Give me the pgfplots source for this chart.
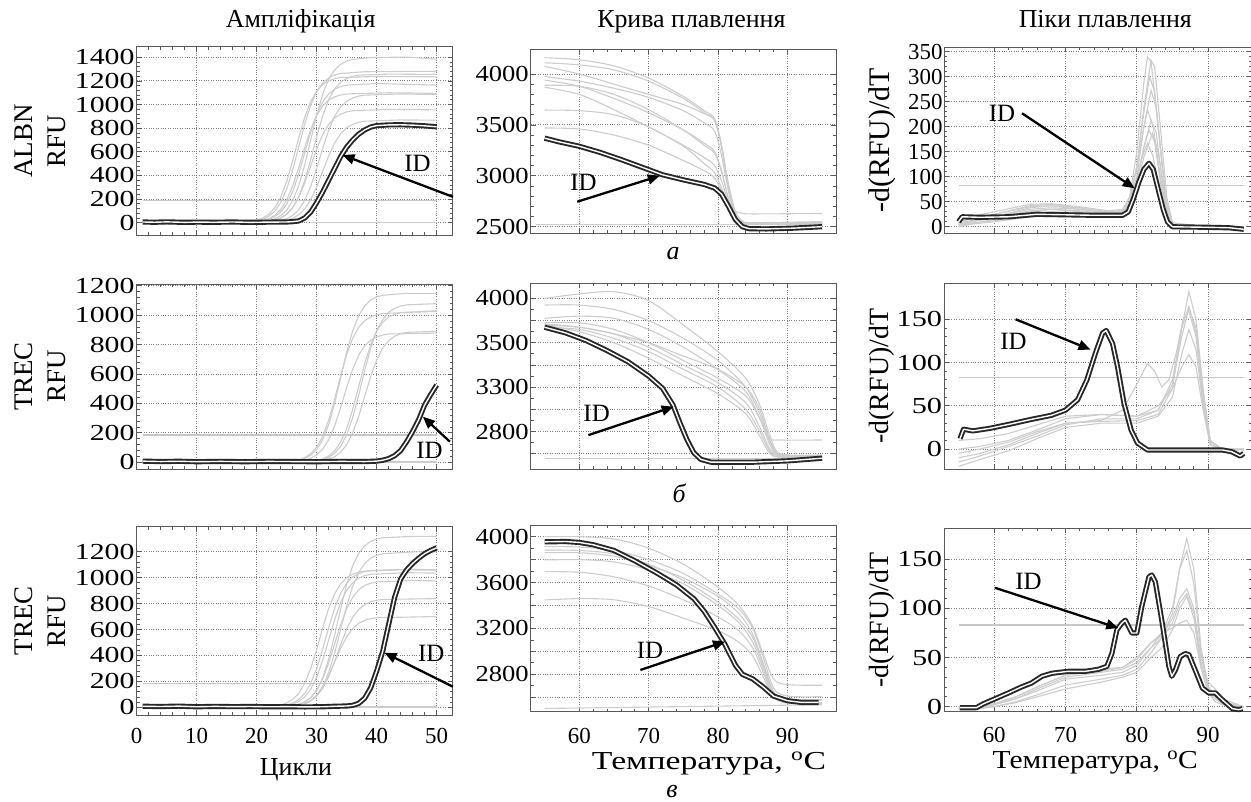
\documentclass[border=0pt]{standalone}
\usepackage{fontspec}
\setmainfont{Liberation Serif}
\usepackage{pgfplots}
\pgfplotsset{compat=1.18}
\usetikzlibrary{arrows.meta}
\tikzset{
  arr/.style={draw=black, line width=2.3bp, -{Triangle[length=12bp,width=10bp]}},
  idt/.style={font=\fontsize{25}{25}\selectfont},
  sub/.style={font=\fontsize{26}{26}\selectfont\itshape, anchor=base},
}
\pgfplotsset{
  panel/.style={
    scale only axis, clip=false, anchor=south west,
    axis line style={draw=black!65, line width=0.9bp},
    tick align=inside,
    major tick length=5bp, minor tick length=3bp,
    tick style={draw=black!65, line width=0.8bp},
    grid=major,
    major grid style={draw=black!50, dotted, line width=0.9bp},
    /pgf/number format/1000 sep={},
    /pgf/number format/assume math mode=true,
    tick label style={font=\fontsize{23}{23}\selectfont},
    yticklabel style={inner sep=1.5bp},
    xticklabel style={inner sep=1.5bp},
    title style={font=\fontsize{26}{26}\selectfont, anchor=base},
    every axis plot/.append style={no marks},
  },
  nox/.style={xticklabels={,,,,,,,}},
  amp/.style={panel, width=316bp, xmin=0, xmax=52.67, xtick={0,10,...,50},
    minor x tick num=4, minor y tick num=4,
    yticklabel style={xscale=1.3},
    xticklabel style={yshift=-11.5bp},
    ylabel style={font=\fontsize{27}{33}\selectfont, align=center,
      at={(axis description cs:-0.306,0.5)}, anchor=center}},
  melt/.style={panel, width=305.3bp, xmin=53, xmax=97, xtick={60,70,80,90},
    minor x tick num=4, yticklabel style={xscale=1.16},
    xticklabel style={yshift=-14.5bp}},
  peak/.style={panel, width=308bp, xmin=53, xmax=96.2, xtick={60,70,80,90},
    minor x tick num=4, minor y tick num=4,
    xticklabel style={yshift=-13.5bp},
    ylabel style={font=\fontsize{28}{28}\selectfont,
      at={(axis description cs:-0.2023,0.5)}, anchor=center}},
  greyc/.style={draw=black!20, line width=1.1bp},
  idc/.style={draw=black!85, double=white, double distance=1.4bp, line width=1.9bp, line join=round},
  thr/.style={draw=black!22, line width=1.4bp},
}
\begin{document}
\begin{tikzpicture}
\useasboundingbox (0,0) rectangle (1251bp,802bp);

% ===================== Row 1 =====================
\begin{axis}[amp, nox, at={(136.7bp,567bp)}, height=188.3bp, ymin=-104, ymax=1490,
  ytick={0,200,...,1400},
  ylabel={ALBN\\RFU}, title={Ампліфікація}, title style={yshift=13.7bp, xshift=6bp}]
\addplot[greyc] coordinates {(1,4)(12,6)(22,10)(23,32)(24,59)(25,106)(26,186)(27,312)(28,489)(29,700)(30,911)(31,1088)(32,1214)(33,1294)(34,1341)(35,1368)(36,1382)(39,1398)(45,1402)(50,1385)};
\addplot[greyc] coordinates {(1,8)(12,6)(20,12)(21,29)(22,54)(23,97)(24,170)(25,285)(26,447)(27,640)(28,833)(29,995)(30,1110)(31,1183)(32,1226)(33,1251)(34,1263)(38,1278)(50,1282)};
\addplot[greyc] coordinates {(1,2)(15,4)(22,10)(23,21)(24,39)(25,71)(26,127)(27,218)(28,355)(29,532)(30,728)(31,905)(32,1042)(33,1133)(34,1189)(35,1221)(36,1239)(37,1249)(42,1258)(50,1255)};
\addplot[greyc] coordinates {(1,5)(12,3)(19,10)(20,21)(21,39)(22,70)(23,125)(24,215)(25,349)(26,524)(27,716)(28,891)(29,1025)(30,1115)(31,1170)(32,1201)(33,1219)(34,1229)(40,1238)(50,1235)};
\addplot[greyc] coordinates {(1,3)(14,5)(21,12)(22,27)(23,50)(24,90)(25,157)(26,263)(27,412)(28,590)(29,768)(30,917)(31,1023)(32,1090)(33,1130)(34,1153)(35,1165)(40,1178)(50,1165)};
\addplot[greyc] coordinates {(1,6)(12,4)(20,9)(21,19)(22,34)(23,62)(24,111)(25,191)(26,310)(27,465)(28,635)(29,790)(30,909)(31,989)(32,1038)(33,1066)(34,1081)(35,1090)(42,1100)(50,1095)};
\addplot[greyc] coordinates {(1,2)(15,5)(23,9)(24,18)(25,34)(26,62)(27,110)(28,189)(29,307)(30,461)(31,629)(32,783)(33,901)(34,980)(35,1028)(36,1056)(37,1072)(38,1080)(44,1090)(50,1085)};
\addplot[greyc] coordinates {(1,4)(14,6)(22,10)(23,22)(24,40)(25,73)(26,128)(27,214)(28,335)(29,480)(30,625)(31,746)(32,832)(33,887)(34,920)(35,938)(36,948)(42,960)(50,955)};
\addplot[greyc] coordinates {(1,5)(15,3)(24,9)(25,20)(26,37)(27,66)(28,116)(29,194)(30,304)(31,435)(32,566)(33,676)(34,754)(35,804)(36,833)(37,850)(38,859)(44,870)(50,868)};
\addplot[greyc] coordinates {(29,2)(50,2)};
\addplot[thr] coordinates {(1,186)(50,186)};
\addplot[idc] coordinates {(1,6)(3,4)(5,7)(8,3)(10,5)(13,4)(16,6)(19,3)(22,5)(25,6)(26,9)(27,15)(28,40)(29,90)(30,170)(31,260)(32,360)(33,460)(34,560)(35,640)(36,700)(37,750)(38,785)(39,810)(40,822)(42,828)(44,829)(46,826)(48,820)(50,812)};
\draw[arr] (axis cs:52.7,219) -- (axis cs:34.3,573);
\node[idt] at (axis cs:46.8,506) {ID};
\end{axis}

\begin{axis}[melt, nox, at={(530.7bp,568.7bp)}, height=184bp, ymin=2435, ymax=4243,
  ytick={2500,3000,3500,4000}, minor y tick num=4,
  title={Крива плавлення}, title style={yshift=16.3bp, xshift=8bp}]
\addplot[greyc, smooth] coordinates {(55,4160)(60,4140)(65,4080)(70,3960)(75,3780)(78,3640)(79.5,3560)(80.5,3300)(81.5,2900)(82.5,2620)(83.5,2545)(85,2530)(95,2540)};
\addplot[greyc, smooth] coordinates {(55,4110)(60,4090)(65,4040)(70,3930)(75,3760)(78,3620)(79.5,3540)(80.5,3280)(81.5,2880)(82.5,2610)(83.5,2545)(85,2530)(95,2545)};
\addplot[greyc, smooth] coordinates {(55,4075)(60,4000)(65,3900)(70,3800)(75,3700)(78,3610)(79.5,3550)(80.5,3300)(81.5,2920)(82.5,2650)(83.5,2560)(85,2540)(95,2550)};
\addplot[greyc, smooth] coordinates {(55,3975)(60,3930)(65,3860)(70,3770)(75,3640)(78,3520)(79.5,3440)(80.5,3200)(81.5,2850)(82.5,2600)(83.5,2540)(85,2530)(95,2535)};
\addplot[greyc, smooth] coordinates {(55,3940)(60,3880)(65,3760)(70,3620)(75,3450)(78,3320)(79.5,3240)(80.5,3050)(81.5,2780)(82.5,2590)(83.5,2540)(85,2530)(95,2530)};
\addplot[greyc, smooth] coordinates {(55,3890)(60,3880)(65,3800)(70,3650)(75,3450)(78,3300)(79.5,3220)(80.5,3040)(81.5,2770)(82.5,2590)(83.5,2535)(85,2530)(95,2530)};
\addplot[greyc, smooth] coordinates {(55,3870)(60,3800)(65,3650)(70,3480)(75,3300)(78,3180)(79.5,3100)(80.5,2950)(81.5,2740)(82.5,2590)(83.5,2540)(85,2530)(95,2530)};
\addplot[greyc, smooth] coordinates {(55,3646)(60,3640)(65,3600)(70,3480)(75,3290)(78,3120)(79.5,3030)(80.5,2880)(81.5,2700)(82.5,2580)(83.5,2540)(85,2530)(95,2535)};
\addplot[greyc, smooth] coordinates {(55,3470)(60,3460)(65,3400)(70,3300)(75,3150)(78,3050)(79.5,2980)(80.5,2850)(81.5,2720)(82.5,2650)(83.5,2632)(85,2625)(95,2630)};
\addplot[greyc] coordinates {(53.7,2522)(95,2522)};
\addplot[idc] coordinates {(55,3370)(57,3335)(60,3290)(63,3230)(66,3160)(69,3085)(72,3010)(75,2960)(78,2915)(79.5,2880)(80.5,2820)(81.5,2700)(82.5,2570)(83.5,2500)(84.5,2480)(87,2478)(91,2486)(95,2500)};
\draw[arr] (axis cs:59.7,2745) -- (axis cs:71.6,3000);
\node[idt] at (axis cs:60.6,2932) {ID};
\node[sub] at (axis description cs:0.466,0) [yshift=-26.7bp] {а};
\end{axis}

\begin{axis}[peak, nox, at={(944.3bp,568.7bp)}, height=186bp, ymin=-13, ymax=359,
  ytick={0,50,...,350},
  ylabel={-d(RFU)/dT}, ylabel style={font=\fontsize{30}{30}\selectfont},
  title={Піки плавлення}, title style={yshift=14.3bp, xshift=7bp}]
\addplot[greyc] coordinates {(55,5)(60,20)(65,38)(68,42)(72,35)(76,28)(78,30)(79,60)(80,150)(81,290)(81.5,340)(82,330)(83,200)(84,60)(85,5)(90,0)(95,-2)};
\addplot[greyc] coordinates {(55,10)(60,25)(65,42)(68,45)(72,38)(76,30)(78,32)(79,50)(80,120)(81,240)(82,333)(82.5,320)(83.3,200)(84.2,60)(85,8)(90,0)(95,-2)};
\addplot[greyc] coordinates {(55,0)(60,15)(65,30)(68,35)(72,32)(76,26)(78,28)(79,50)(80,120)(81,230)(81.8,300)(82.5,270)(83.3,160)(84.2,45)(85,5)(90,0)(95,-3)};
\addplot[greyc] coordinates {(55,5)(60,12)(65,25)(68,30)(72,28)(76,25)(78,27)(79,45)(80,100)(81,200)(82,273)(82.7,240)(83.5,130)(84.3,30)(85,2)(90,0)(95,-2)};
\addplot[greyc] coordinates {(55,15)(60,30)(65,45)(68,46)(72,40)(76,32)(78,35)(79,60)(80,120)(81,200)(81.5,233)(82.3,200)(83.2,110)(84.2,25)(85,3)(95,0)};
\addplot[greyc] coordinates {(55,8)(60,20)(65,35)(68,38)(72,35)(76,28)(78,30)(79,45)(80,90)(81,160)(82,213)(82.7,190)(83.5,100)(84.3,20)(85,0)(95,-2)};
\addplot[greyc] coordinates {(55,3)(60,10)(65,20)(68,25)(72,25)(76,22)(78,25)(79,40)(80,90)(81,160)(81.7,193)(82.5,170)(83.3,90)(84.2,20)(85,0)(95,-1)};
\addplot[greyc] coordinates {(55,12)(60,25)(65,40)(68,42)(72,38)(76,30)(78,32)(79,45)(80,80)(81,140)(82.2,187)(83,150)(83.7,80)(84.5,15)(85.2,0)(95,-2)};
\addplot[greyc] coordinates {(55,5)(60,18)(65,32)(68,35)(72,30)(76,25)(78,28)(79,50)(80,100)(81,150)(81.5,167)(82.3,140)(83.2,70)(84.2,12)(85,0)(95,-2)};
\addplot[thr] coordinates {(55,82)(95,82)};
\addplot[idc] coordinates {(55,10)(55.5,20)(58,19)(62,20)(66,25)(70,24)(74,23)(78,23)(78.8,30)(79.5,55)(80.3,90)(81,115)(81.7,127)(82.3,115)(83,75)(83.7,35)(84.3,10)(85,0)(90,-1)(93,-2)(95,-5)};
\draw[arr] (axis cs:63.9,227) -- (axis cs:79.7,77);
\node[idt] at (axis cs:61.1,227) {ID};
\end{axis}

% ===================== Row 2 =====================
\begin{axis}[amp, nox, at={(136.7bp,333bp)}, height=185bp, ymin=-45.5, ymax=1211.6,
  ytick={0,200,...,1200}, ylabel={TREC\\RFU}]
\addplot[greyc] coordinates {(1,3)(20,5)(27,10)(28,26)(29,48)(30,87)(31,153)(32,256)(33,401)(34,575)(35,749)(36,894)(37,997)(38,1063)(39,1102)(40,1124)(41,1135)(45,1148)(50,1148)};
\addplot[greyc] coordinates {(1,5)(20,3)(26,8)(27,17)(28,32)(29,58)(30,103)(31,177)(32,287)(33,431)(34,589)(35,733)(36,843)(37,917)(38,962)(39,988)(40,1003)(41,1011)(46,1020)(50,1025)};
\addplot[greyc] coordinates {(1,2)(20,4)(30,8)(31,18)(32,34)(33,61)(34,109)(35,187)(36,304)(37,456)(38,624)(39,776)(40,893)(41,971)(42,1019)(43,1046)(44,1062)(45,1070)(50,1078)};
\addplot[greyc] coordinates {(1,6)(20,4)(30,10)(31,24)(32,43)(33,78)(34,137)(35,230)(36,359)(37,515)(38,671)(39,800)(40,893)(41,952)(42,987)(43,1006)(44,1017)(50,1030)};
\addplot[greyc] coordinates {(1,4)(20,6)(31,9)(32,21)(33,38)(34,68)(35,119)(36,200)(37,312)(38,448)(39,583)(40,695)(41,776)(42,827)(43,857)(44,874)(45,883)(50,890)};
\addplot[greyc] coordinates {(1,3)(20,5)(27,8)(28,15)(29,27)(30,50)(31,89)(32,153)(33,248)(34,372)(35,508)(36,632)(37,728)(38,791)(39,830)(40,853)(41,865)(42,872)(50,878)};
\addplot[greyc] coordinates {(38,2)(50,2)};
\addplot[thr] coordinates {(1,186)(50,186)};
\addplot[idc] coordinates {(1,8)(4,5)(7,7)(10,4)(14,6)(18,4)(22,6)(26,5)(30,4)(34,6)(38,5)(40,8)(41,14)(42,25)(43,45)(44,80)(45,140)(46,210)(47,290)(48,390)(49,460)(50,525)};
\draw[arr] (axis cs:52.2,140) -- (axis cs:47.7,310);
\node[idt] at (axis cs:48.8,84) {ID};
\end{axis}

\begin{axis}[melt, nox, at={(530.7bp,332.7bp)}, height=186bp, ymin=3230, ymax=4068,
  ytick={3300,3400,...,4000}, yticklabels={,2800,,3300,,3500,,4000}, minor y tick num=1]
\addplot[greyc, smooth] coordinates {(55,4000)(60,4020)(65,4030)(70,3990)(75,3880)(80,3760)(84,3640)(86,3520)(87.5,3380)(89,3300)(95,3295)};
\addplot[greyc, smooth] coordinates {(55,3970)(60,3970)(65,3950)(70,3900)(75,3820)(80,3720)(84,3600)(86,3480)(87.5,3350)(89,3295)(95,3292)};
\addplot[greyc, smooth] coordinates {(55,3910)(60,3920)(65,3910)(70,3860)(75,3780)(80,3680)(84,3580)(86,3460)(87.5,3340)(89,3290)(95,3290)};
\addplot[greyc, smooth] coordinates {(55,3890)(60,3890)(65,3860)(70,3800)(75,3720)(80,3640)(84,3560)(86,3460)(87.5,3370)(89,3362)(95,3362)};
\addplot[greyc, smooth] coordinates {(55,3880)(60,3870)(65,3840)(70,3780)(75,3700)(80,3620)(84,3530)(86,3420)(87.5,3320)(89,3290)(95,3288)};
\addplot[greyc, smooth] coordinates {(55,3870)(60,3860)(65,3820)(70,3760)(75,3680)(80,3600)(84,3500)(86,3400)(87.5,3310)(89,3285)(95,3285)};
\addplot[greyc, smooth] coordinates {(55,3880)(60,3850)(65,3800)(70,3730)(75,3650)(80,3570)(84,3480)(86,3380)(87.5,3300)(89,3285)(95,3288)};
\addplot[greyc, smooth] coordinates {(55,3885)(60,3870)(65,3840)(70,3800)(75,3740)(80,3680)(84,3600)(86,3500)(87.5,3360)(89,3295)(95,3290)};
\addplot[greyc] coordinates {(55,3278)(95,3278)};
\addplot[idc] coordinates {(55,3870)(58,3845)(61,3810)(64,3765)(67,3715)(70,3650)(72,3595)(73.5,3520)(74.5,3440)(75.5,3365)(76.5,3305)(77.5,3275)(79,3262)(85,3262)(90,3268)(95,3280)};
\draw[arr] (axis cs:61.3,3384) -- (axis cs:73.6,3512);
\node[idt] at (axis cs:62.5,3482) {ID};
\node[sub] at (axis description cs:0.486,0) [yshift=-33.7bp] {б};
\end{axis}

\begin{axis}[peak, nox, at={(944.3bp,333bp)}, height=185.7bp, ymin=-23, ymax=191.6,
  ytick={0,50,100,150}, yticklabel style={xscale=1.32},
  ylabel={-d(RFU)/dT}]
\addplot[greyc] coordinates {(55,-10)(58,-5)(62,5)(66,18)(70,30)(75,32)(80,33)(83,40)(85,70)(86.3,140)(87.3,182)(88.3,150)(89.3,70)(90.3,10)(92,0)(95,0)};
\addplot[greyc] coordinates {(55,-15)(58,-8)(62,3)(66,15)(70,28)(75,35)(80,35)(83,45)(85,80)(86.3,140)(87.3,165)(88.3,135)(89.3,60)(90.3,8)(92,0)(95,0)};
\addplot[greyc] coordinates {(55,0)(58,3)(62,10)(66,22)(70,35)(75,40)(80,38)(83,45)(85,75)(86.3,130)(87.3,163)(88.3,140)(89.3,65)(90.3,10)(92,-2)(95,-1)};
\addplot[greyc] coordinates {(55,-20)(58,-12)(62,-2)(66,12)(70,25)(75,30)(80,30)(83,38)(85,60)(86.3,110)(87.3,138)(88.3,115)(89.3,50)(90.3,5)(92,0)(95,0)};
\addplot[greyc] coordinates {(55,10)(58,12)(62,18)(66,28)(70,38)(75,40)(80,38)(83,50)(85,70)(86.3,95)(87.3,109)(88.3,95)(89.3,45)(90.3,5)(92,0)(95,0)};
\addplot[greyc] coordinates {(55,-5)(58,0)(62,8)(66,20)(70,30)(75,33)(78,45)(80,75)(81.5,99)(82.5,90)(83.5,72)(84.5,80)(85.5,110)(86.5,150)(87.3,160)(88.3,130)(89.3,55)(90.3,5)(92,0)(95,0)};
\addplot[thr] coordinates {(55,82.5)(95,82.5)};
\addplot[idc] coordinates {(55.2,12)(55.7,23)(57,21)(59.4,24)(62.3,29)(65,34)(68,39)(70,45)(71.7,57)(73,80)(74.2,111)(75.2,134)(75.7,137)(76.6,122)(77.3,95)(78.2,53)(79.2,22)(80.1,7)(81.5,-1)(92,-1)(93.3,-3)(94.5,-8)(95,-5)};
\draw[arr] (axis cs:63,150) -- (axis cs:73.5,115);
\node[idt] at (axis cs:62.7,124) {ID};
\end{axis}

% ===================== Row 3 =====================
\begin{axis}[amp, at={(136.7bp,87bp)}, height=188.3bp, ymin=-59.4, ymax=1392.8,
  ytick={0,200,...,1200}, ylabel={TREC\\RFU},
  xlabel={Цикли}, xlabel style={font=\fontsize{26}{26}\selectfont, inner sep=0pt, at={(axis description cs:0.504,0)}, anchor=base, yshift=-60bp}]
\addplot[greyc] coordinates {(1,5)(20,4)(26,10)(27,22)(28,41)(29,75)(30,133)(31,229)(32,371)(33,558)(34,762)(35,949)(36,1091)(37,1187)(38,1245)(39,1279)(40,1298)(41,1308)(46,1318)(50,1318)};
\addplot[greyc] coordinates {(1,3)(20,6)(27,12)(28,28)(29,50)(30,91)(31,160)(32,268)(33,419)(34,600)(35,781)(36,932)(37,1040)(38,1109)(39,1150)(40,1172)(41,1184)(46,1198)(50,1200)};
\addplot[greyc] coordinates {(1,6)(20,4)(24,8)(25,18)(26,33)(27,60)(28,107)(29,185)(30,300)(31,450)(32,615)(33,765)(34,880)(35,958)(36,1005)(37,1032)(38,1047)(39,1055)(45,1065)(50,1060)};
\addplot[greyc] coordinates {(1,4)(20,3)(25,10)(26,24)(27,44)(28,79)(29,138)(30,232)(31,363)(32,520)(33,677)(34,808)(35,902)(36,961)(37,996)(38,1016)(39,1026)(45,1038)(50,1035)};
\addplot[greyc] coordinates {(1,2)(20,5)(26,10)(27,23)(28,41)(29,74)(30,130)(31,219)(32,342)(33,490)(34,638)(35,761)(36,849)(37,906)(38,939)(39,957)(40,967)(46,978)(50,975)};
\addplot[greyc] coordinates {(1,5)(20,3)(26,7)(27,14)(28,26)(29,48)(30,85)(31,146)(32,236)(33,355)(34,485)(35,604)(36,694)(37,755)(38,792)(39,814)(40,826)(41,832)(50,838)};
\addplot[greyc] coordinates {(1,3)(20,4)(26,8)(27,16)(28,29)(29,53)(30,93)(31,156)(32,244)(33,350)(34,456)(35,544)(36,607)(37,647)(38,671)(39,684)(40,691)(50,700)};
\addplot[greyc] coordinates {(1,4)(20,5)(23,9)(24,18)(25,33)(26,60)(27,107)(28,184)(29,298)(30,448)(31,612)(32,762)(33,876)(34,953)(35,1000)(36,1027)(37,1042)(38,1050)(44,1060)(50,1058)};
\addplot[greyc] coordinates {(36,2)(50,2)};
\addplot[thr] coordinates {(1,185)(50,185)};
\addplot[idc] coordinates {(1,8)(4,6)(7,9)(10,4)(13,7)(16,5)(19,6)(22,4)(25,5)(28,3)(31,4)(33,8)(35,10)(36,15)(37,30)(38,70)(39,150)(40,280)(41,430)(42,640)(43,850)(44,990)(45,1060)(46,1110)(47,1150)(48,1185)(49,1210)(50,1230)};
\draw[arr] (axis cs:52.7,159) -- (axis cs:41.3,421);
\node[idt] at (axis cs:49.1,416) {ID};
\end{axis}

\begin{axis}[melt, at={(530.7bp,90.3bp)}, height=186.7bp, ymin=2474, ymax=4102,
  ytick={2600,2800,...,4000}, yticklabels={,2800,,3200,,3600,,4000}, minor y tick num=1,
  xlabel={Температура, \textsuperscript{o}C}, xlabel style={font=\fontsize{26}{26}\selectfont, inner sep=0pt, at={(axis description cs:0.584,0)}, anchor=base, yshift=-57.5bp, xscale=1.3}]
\addplot[greyc, smooth] coordinates {(55,4000)(60,4000)(65,3980)(70,3900)(75,3760)(80,3560)(83,3400)(85,3220)(86.5,2980)(88,2760)(90,2710)(95,2705)};
\addplot[greyc, smooth] coordinates {(55,3913)(60,3910)(65,3880)(70,3800)(75,3680)(80,3500)(83,3370)(85,3200)(86.5,2950)(88,2680)(90,2610)(95,2605)};
\addplot[greyc, smooth] coordinates {(55,3884)(60,3880)(65,3850)(70,3760)(75,3620)(80,3430)(83,3280)(85,3120)(86.5,2880)(88,2640)(90,2580)(95,2575)};
\addplot[greyc, smooth] coordinates {(55,3797)(60,3800)(65,3780)(70,3710)(75,3590)(80,3400)(83,3250)(85,3080)(86.5,2850)(88,2620)(90,2560)(95,2550)};
\addplot[greyc, smooth] coordinates {(55,3695)(60,3690)(65,3650)(70,3570)(75,3450)(80,3300)(83,3180)(85,3030)(86.5,2820)(88,2610)(90,2555)(95,2550)};
\addplot[greyc, smooth] coordinates {(55,3448)(60,3460)(65,3450)(70,3390)(75,3290)(80,3180)(83,3080)(85,2960)(86.5,2780)(88,2600)(90,2550)(95,2545)};
\addplot[greyc, smooth] coordinates {(55,3860)(60,3860)(65,3830)(70,3750)(75,3640)(80,3480)(83,3330)(85,3150)(86.5,2900)(88,2650)(90,2585)(95,2580)};
\addplot[greyc] coordinates {(55,2502)(95,2535)};
\addplot[idc] coordinates {(55,3955)(58,3958)(60,3950)(62,3930)(65,3880)(68,3790)(71,3690)(74,3580)(76.5,3460)(78,3350)(79.5,3210)(81,3060)(82.5,2880)(83.5,2800)(85,2760)(86.5,2690)(88,2610)(90,2570)(92,2555)(94.5,2555)};
\draw[arr] (axis cs:68.8,2838) -- (axis cs:81,3085);
\node[idt] at (axis cs:70.2,3012) {ID};
\node[sub] at (axis description cs:0.463,0) [yshift=-85.3bp] {в};
\end{axis}

\begin{axis}[peak, at={(944.3bp,90.3bp)}, height=183.4bp, ymin=-5.1, ymax=181.5,
  ytick={0,50,100,150}, yticklabel style={xscale=1.3},
  ylabel={-d(RFU)/dT},
  xlabel={Температура, \textsuperscript{o}C}, xlabel style={font=\fontsize{26}{26}\selectfont, inner sep=0pt, at={(axis description cs:0.49,0)}, anchor=base, yshift=-57bp, xscale=1.14}]
\addplot[greyc] coordinates {(55,-3)(58,-2)(60,0)(63,5)(66,12)(70,22)(75,28)(78,32)(80,38)(82,55)(83.5,70)(85,95)(86,140)(87,171)(88,140)(89,60)(90,20)(91,12)(92,5)(95,0)};
\addplot[greyc] coordinates {(55,-2)(58,-1)(60,2)(63,8)(66,16)(70,28)(75,32)(78,35)(80,42)(82,60)(83.5,75)(85,100)(86,140)(87,159)(88,125)(89,55)(90,18)(91,10)(92,3)(95,0)};
\addplot[greyc] coordinates {(55,0)(58,0)(60,3)(63,10)(66,20)(70,32)(75,36)(78,40)(80,48)(82,65)(83.5,72)(85,90)(86,110)(87,120)(88,100)(89,50)(90,25)(91,18)(92,8)(95,0)};
\addplot[greyc] coordinates {(55,-1)(58,0)(60,2)(63,8)(66,18)(70,30)(75,35)(78,38)(80,45)(82,60)(83.5,70)(85,85)(86,105)(87,115)(88,95)(89,45)(90,20)(91,12)(92,5)(95,-1)};
\addplot[greyc] coordinates {(55,-2)(58,-1)(60,0)(63,4)(66,10)(70,18)(75,25)(78,30)(80,35)(82,50)(83.5,60)(85,78)(86,100)(87,112)(88,90)(89,40)(90,15)(91,8)(92,3)(95,0)};
\addplot[greyc] coordinates {(55,-1)(58,0)(60,3)(63,10)(66,20)(70,32)(75,38)(78,40)(80,50)(82,65)(83.5,75)(85,80)(86,85)(87,88)(88,75)(89,40)(90,15)(91,5)(92,2)(95,0)};
\addplot[thr] coordinates {(55,83)(95,83)};
\addplot[idc] coordinates {(55.2,-1)(57.5,-1)(58.5,3)(60.1,8)(62,14)(63.8,20)(65.2,24)(66.7,31)(68.1,34)(70.4,36)(72.8,36)(74.6,38)(75.8,41)(76.5,54)(77.2,78)(77.9,85)(78.4,88)(79.3,75)(80,75)(80.7,102)(81.7,132)(82.1,134)(82.6,127)(83.5,88)(84.5,41)(84.9,31)(85.4,37)(86.1,51)(86.8,54)(87.3,53)(88.2,37)(89.2,19)(90.1,14)(91,14)(92,7)(93.4,-2)(94.3,-3)(94.8,-2)};
\draw[arr] (axis cs:60.1,121) -- (axis cs:77.4,80);
\node[idt] at (axis cs:64.8,127) {ID};
\end{axis}
\end{tikzpicture}
\end{document}
